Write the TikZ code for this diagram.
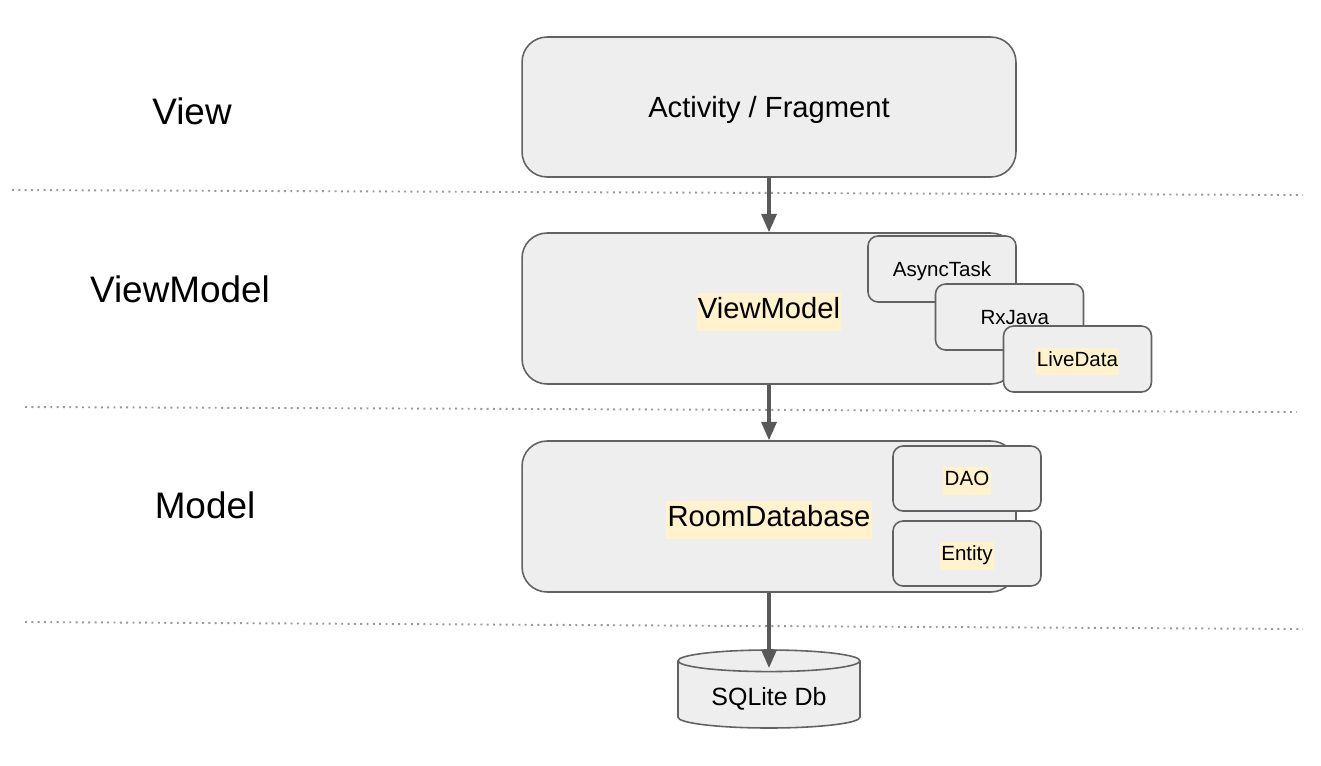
\documentclass[tikz,border=0pt]{standalone}
\usepackage{fontspec}
\setmainfont{Liberation Sans}
\usetikzlibrary{shapes.geometric,arrows.meta}
\definecolor{boxfill}{HTML}{EEEEEE}
\definecolor{boxline}{HTML}{626262}
\definecolor{arrowgray}{HTML}{595959}
\definecolor{hlcream}{HTML}{FFF2CC}
\newcommand{\hlword}[1]{{\setlength{\fboxsep}{0.8pt}\colorbox{hlcream}{\strut #1}}}
\begin{document}
\begin{tikzpicture}[x=0.02cm, y=-0.02cm,
  layerbox/.style={draw=boxline, fill=boxfill, line width=0.9pt, rounded corners=0.5cm,
    minimum width=9.88cm, text height=11.9pt, text depth=0pt, font=\fontsize{16.6}{20}\selectfont},
  smallbox/.style={draw=boxline, fill=boxfill, line width=0.9pt, rounded corners=0.2cm,
    minimum width=2.96cm, minimum height=1.32cm, text height=8.4pt, text depth=0pt,
    font=\fontsize{11.7}{14}\selectfont},
  layername/.style={font=\fontsize{21}{25}\selectfont},
  flow/.style={draw=arrowgray, line width=1.9pt, -{Triangle[length=10.5pt,width=8.6pt]}},
  divider/.style={draw=gray!80, line width=1.1pt, dash pattern=on 1.1pt off 2.5pt}]
\useasboundingbox (0,0) rectangle (1321,765);

% Layer names
\node[layername] (view) at (192,111) {View};
\node[layername] (vmname) at (180,289) {ViewModel};
\node[layername] (modelname) at (205,505) {Model};

% Dividers
\draw[divider] (12,190) -- (1303,195);
\draw[divider] (25,407) -- (1297,412);
\draw[divider] (25,622) -- (1303,629);

% View layer
\node[layerbox, minimum height=2.8cm] (act) at (769,107) {Activity / Fragment};

% ViewModel layer
\node[layerbox, minimum height=3.02cm] (vm) at (769,308.5) {\hlword{ViewModel}};
\node[smallbox] (async) at (942,269) {AsyncTask};
\node[smallbox] (rx) at (1009.5,317) {\hspace{6pt}RxJava};
\node[smallbox] (live) at (1077.5,359) {\hlword{LiveData}};

% Model layer
\node[layerbox, minimum height=3.02cm] (room) at (769,516.5) {\hlword{RoomDatabase}};
\node[smallbox, minimum height=1.3cm] (dao) at (967,478.5) {\hlword{DAO}};
\node[smallbox, minimum height=1.3cm] (entity) at (967,553.5) {\hlword{Entity}};

% Database
\node[cylinder, shape border rotate=90, draw=boxline, fill=boxfill, line width=0.9pt,
  aspect=0.17, minimum width=3.64cm, minimum height=1.56cm, anchor=shape center,
  text height=10.2pt, text depth=0pt,
  font=\fontsize{14.2}{17}\selectfont] (db) at (769,689) {SQLite Db};
\coordinate (dbtop) at (769,668);

% Flow
\draw[flow] (act) -- (vm);
\draw[flow] (vm) -- (room);
\draw[flow] (room) -- (dbtop);
\end{tikzpicture}
\end{document}
